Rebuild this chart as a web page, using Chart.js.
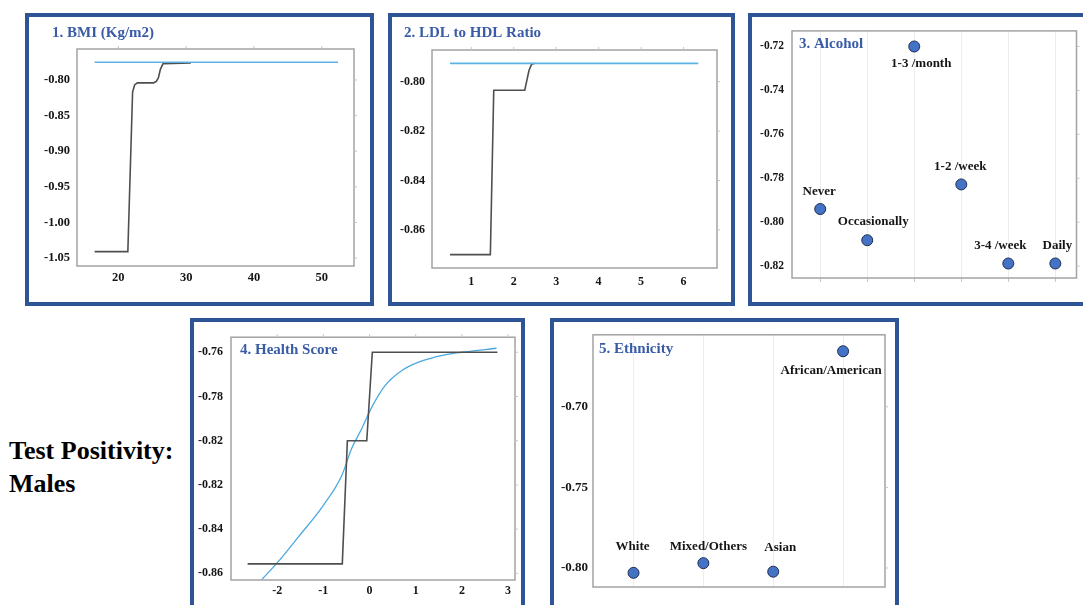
<!DOCTYPE html>
<html>
<head>
<meta charset="utf-8">
<script src="https://cdn.jsdelivr.net/npm/chart.js@4.4.1/dist/chart.umd.min.js"></script>
<style>
body { margin:0; background:#fff; width:1083px; height:605px; overflow:hidden; position:relative; }
.frame { position:absolute; border:4px solid #2E5496; box-sizing:border-box; }
canvas { position:absolute; }
#side { position:absolute; left:9px; top:434px; font:bold 26px "Liberation Serif", serif; line-height:33px; color:#000; }
</style>
</head>
<body>
<div class="frame" style="left:25px;top:13px;width:349px;height:293px"></div>
<div class="frame" style="left:388px;top:13px;width:347px;height:293px"></div>
<div class="frame" style="left:748px;top:13px;width:345px;height:293px"></div>
<div class="frame" style="left:190px;top:318px;width:335px;height:300px"></div>
<div class="frame" style="left:550px;top:318px;width:349px;height:300px"></div>
<div id="side">Test Positivity:<br>Males</div>

<canvas id="c1" width="342" height="286" style="left:28px;top:16px"></canvas>
<canvas id="c2" width="339" height="286" style="left:392px;top:16px"></canvas>
<canvas id="c3" width="331" height="286" style="left:752px;top:16px"></canvas>
<canvas id="c4" width="326" height="283" style="left:193px;top:322px"></canvas>
<canvas id="c5" width="342" height="283" style="left:553px;top:322px"></canvas>

<script>
// 1. BMI
const bmiStepX = [16.5, 21.4, 22.1, 22.4, 22.8, 25.2, 25.6, 25.9, 26.2, 26.6, 30.7];
const bmiStepY = [-1.041, -1.041, -0.817, -0.807, -0.804, -0.804, -0.802, -0.797, -0.785, -0.777, -0.776];
const bmiFitX = [16.5, 52.4];
const bmiFitY = [-0.775, -0.775];
const bmiXTicks = [20, 30, 40, 50];
const bmiYTicks = [-1.05, -1.00, -0.95, -0.90, -0.85, -0.80];
const bmiYLabels = ['-1.05', '-1.00', '-0.95', '-0.90', '-0.85', '-0.80'];

// 2. LDL to HDL ratio
const ldlStepX = [0.5, 1.45, 1.53, 2.26, 2.36, 2.42, 2.5];
const ldlStepY = [-0.870, -0.870, -0.8035, -0.8035, -0.7955, -0.793, -0.7926];
const ldlFitX = [0.5, 6.35];
const ldlFitY = [-0.7926, -0.7926];
const ldlXTicks = [1, 2, 3, 4, 5, 6];
const ldlYTicks = [-0.86, -0.84, -0.82, -0.80];
const ldlYLabels = ['-0.86', '-0.84', '-0.82', '-0.80'];

// 3. Alcohol
const alcCats = ['Never', 'Occasionally', '1-3 /month', '1-2 /week', '3-4 /week', 'Daily'];
const alcVals = [-0.794, -0.8082, -0.720, -0.7828, -0.8188, -0.8188];
const alcYTicks = [-0.82, -0.80, -0.78, -0.76, -0.74, -0.72];
const alcYLabels = ['-0.82', '-0.80', '-0.78', '-0.76', '-0.74', '-0.72'];

// 4. Health score
const hsStepX = [-2.64, -0.59, -0.48, -0.06, 0.06, 2.77];
const hsStepY = [-0.8557, -0.8557, -0.800, -0.800, -0.760, -0.760];
const hsFitX = [-2.33, -2.01, -1.54, -1.00, -0.60, -0.39, -0.17, 0.05, 0.34, 0.70, 1.06, 1.63, 2.00, 2.75];
const hsFitY = [-0.8627, -0.8555, -0.8435, -0.8292, -0.8157, -0.8036, -0.7946, -0.7848, -0.775, -0.7683, -0.7645, -0.7612, -0.7600, -0.7582];
const hsXTicks = [-2, -1, 0, 1, 2, 3];
const hsYTicks = [-0.86, -0.84, -0.82, -0.80, -0.78, -0.76];
const hsYLabels = ['-0.86', '-0.84', '-0.82', '-0.82', '-0.78', '-0.76'];

// 5. Ethnicity
const ethCats = ['White', 'Mixed/Others', 'Asian', 'African/American'];
const ethVals = [-0.803, -0.797, -0.8023, -0.6655];
const ethYTicks = [-0.80, -0.75, -0.70];
const ethYLabels = ['-0.80', '-0.75', '-0.70'];

const FONT = '"Liberation Serif", "Times New Roman", serif';
const xy = (xs, ys) => xs.map((x, i) => ({ x: x, y: ys[i] }));

function axis(min, max, vals, labels, o) {
  return {
    type: 'linear', min: min, max: max,
    afterBuildTicks: s => { s.ticks = vals.map(v => ({ value: v })); },
    afterFit: s => { if (o.w != null) s.width = o.w; if (o.h != null) s.height = o.h; },
    grid: { display: !!o.grid, color: '#EDEDED', lineWidth: 1, drawTicks: !!o.tickLen, tickLength: o.tickLen || 0, tickColor: '#C8C8C8' },
    border: { display: false },
    ticks: {
      display: o.noLabels ? false : true, padding: o.pad || 6, color: '#151515',
      font: { family: FONT, weight: 'bold', size: o.fs || 12 },
      callback: (v, i) => labels ? labels[i] : ''
    }
  };
}

const framePlugin = {
  id: 'frame',
  afterDraw(chart, args, opts) {
    const a = chart.chartArea, c = chart.ctx;
    c.save();
    c.strokeStyle = '#A3A3A3';
    c.lineWidth = 1.5;
    c.strokeRect(a.left, a.top, a.right - a.left, a.bottom - a.top);
    c.strokeStyle = '#C4C4C4';
    c.lineWidth = 1;
    if (opts.top) chart.scales.x.ticks.forEach(t => {
      const px = chart.scales.x.getPixelForValue(t.value);
      c.beginPath(); c.moveTo(px, a.top); c.lineTo(px, a.top - 3); c.stroke();
    });
    if (opts.right) chart.scales.y.ticks.forEach(t => {
      const py = chart.scales.y.getPixelForValue(t.value);
      c.beginPath(); c.moveTo(a.right, py); c.lineTo(a.right + 3, py); c.stroke();
    });
    c.textBaseline = 'middle';
    if (opts.title) {
      c.fillStyle = '#3A5CA6';
      c.font = 'bold 15px ' + FONT;
      c.textAlign = 'left';
      c.fillText(opts.title, a.left + opts.tdx, a.top + opts.tdy);
    }
    if (opts.labels) {
      const meta = chart.getDatasetMeta(0);
      c.fillStyle = '#151515';
      c.font = 'bold 13px ' + FONT;
      c.textAlign = 'center';
      meta.data.forEach((p, i) => {
        c.fillText(opts.labels[i], p.x + opts.ldx[i], p.y + opts.ldy[i]);
      });
    }
    c.restore();
  }
};

const lineDs = (data, color, w) => ({
  data: data, borderColor: color, borderWidth: w, pointRadius: 0, fill: false, tension: 0
});

function make(id, datasets, scales, frame) {
  new Chart(document.getElementById(id), {
    type: 'scatter',
    data: { datasets: datasets },
    options: {
      responsive: false, animation: false, showLine: true,
      layout: { padding: frame.pad },
      plugins: { legend: { display: false }, tooltip: { enabled: false }, frame: frame },
      scales: scales
    },
    plugins: [framePlugin]
  });
}

// 1
make('c1', [
  lineDs(xy(bmiFitX, bmiFitY), '#5AB3E3', 1.6),
  lineDs(xy(bmiStepX, bmiStepY), '#4F4F4F', 1.6)
], {
  x: axis(13.9, 54.76, bmiXTicks, bmiXTicks.map(String), { h: 36, fs: 12.5, pad: 4 }),
  y: axis(-1.0612, -0.7565, bmiYTicks, bmiYLabels, { w: 49, fs: 12.5, pad: 7 })
}, { pad: { top: 33, right: 16, left: 0, bottom: 0 }, top: true, right: true, title: '1. BMI (Kg/m2)', tdx: -25, tdy: -16 });

// 2
make('c2', [
  lineDs(xy(ldlFitX, ldlFitY), '#5AB3E3', 1.6),
  lineDs(xy(ldlStepX, ldlStepY), '#4F4F4F', 1.6)
], {
  x: axis(0.075, 6.79, ldlXTicks, ldlXTicks.map(String), { h: 34, fs: 12, pad: 7 }),
  y: axis(-0.8754, -0.7872, ldlYTicks, ldlYLabels, { w: 40, fs: 12, pad: 7 })
}, { pad: { top: 34, right: 14, left: 0, bottom: 0 }, top: true, right: true, title: '2. LDL to HDL Ratio', tdx: -28, tdy: -17 });

// 3
make('c3', [{
  data: alcVals.map((v, i) => ({ x: i, y: v })), showLine: false,
  pointRadius: 5.5, pointBackgroundColor: '#4472C4', pointBorderColor: '#1E2E52', pointBorderWidth: 1
}], {
  x: axis(-0.6, 5.45, alcCats.map((c, i) => i), null, { h: 24, grid: true, tickLen: 4 }),
  y: axis(-0.8254, -0.7129, alcYTicks, alcYLabels, { w: 40, fs: 11.5, pad: 8 })
}, {
  pad: { top: 8, right: 5, left: 0, bottom: 0 }, right: true, title: '3. Alcohol', tdx: 7, tdy: 13,
  labels: alcCats, ldx: [-1, 6, 7, -1, -8, 2], ldy: [-17, -19, 17, -18, -18, -18]
});

// 4
make('c4', [
  lineDs(xy(hsStepX, hsStepY), '#4F4F4F', 1.6),
  Object.assign(lineDs(xy(hsFitX, hsFitY), '#4BA9E0', 1.3), { cubicInterpolationMode: 'monotone' })
], {
  x: axis(-3.0, 3.15, hsXTicks, hsXTicks.map(String), { h: 25, fs: 12, pad: 4 }),
  y: axis(-0.863, -0.7532, hsYTicks, hsYLabels, { w: 38, fs: 12, pad: 8 })
}, { pad: { top: 15, right: 4, left: 0, bottom: 0 }, top: true, right: true, title: '4. Health Score', tdx: 9, tdy: 13 });

// 5
make('c5', [{
  data: ethVals.map((v, i) => ({ x: i, y: v })), showLine: false,
  pointRadius: 5.5, pointBackgroundColor: '#4472C4', pointBorderColor: '#1E2E52', pointBorderWidth: 1
}], {
  x: axis(-0.58, 3.6, ethCats.map((c, i) => i), null, { h: 18, grid: true, noLabels: true }),
  y: axis(-0.8118, -0.6553, ethYTicks, ethYLabels, { w: 40, fs: 13, pad: 5 })
}, {
  pad: { top: 8, right: 10, left: 0, bottom: 0 }, right: true, title: '5. Ethnicity', tdx: 6, tdy: 14,
  labels: ethCats, ldx: [-1, 5, 7, -12], ldy: [-26, -17, -24, 19]
});
</script>
</body>
</html>
